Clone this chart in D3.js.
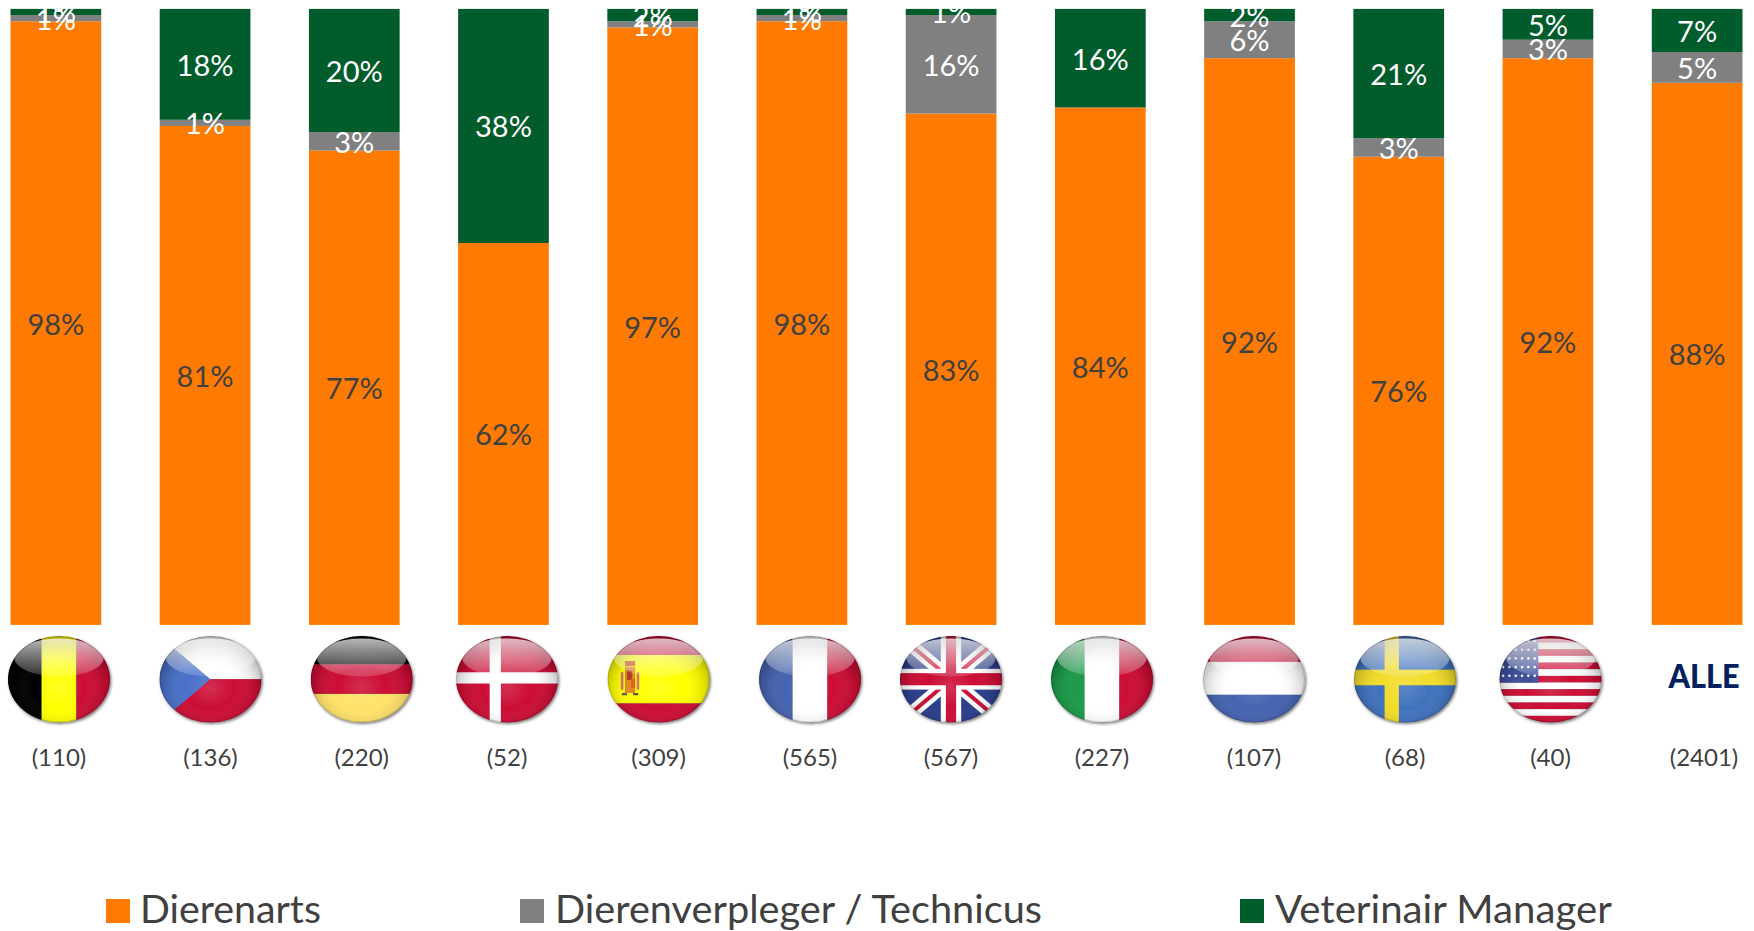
<!DOCTYPE html>
<html><head><meta charset="utf-8">
<script src="https://cdnjs.cloudflare.com/ajax/libs/d3/7.9.0/d3.min.js"></script>
<style>html,body{margin:0;padding:0;background:#fff;overflow:hidden}svg{display:block}text{font-family:Lato,"Open Sans",sans-serif}</style>
</head><body><svg id="c" width="1754" height="931"></svg>
<script>
// ---- data ----
const countries = ["BE","CZ","DE","DK","ES","FR","UK","IT","NL","SE","US","ALLE"];
const respondents = ["(110)","(136)","(220)","(52)","(309)","(565)","(567)","(227)","(107)","(68)","(40)","(2401)"];
const seriesNames = ["Dierenarts","Dierenverpleger / Technicus","Veterinair Manager"];
const dierenarts = [98,81,77,62,97,98,83,84,92,76,92,88];
const technicus  = [1,1,3,0,1,1,16,0,6,3,3,5];
const manager    = [1,18,20,38,2,1,1,16,2,21,5,7];
const seriesColors = ["#FF7A00","#808080","#005C2B"];
const labelColors = ["#404040","#ffffff","#ffffff"];

// ---- layout ----
const flagX = [59,210.5,361.7,507,658.6,810,951,1102,1254,1405,1550.5,1704];
const legendLayout = [{sx:106,tx:140,tw:181},{sx:520,tx:555,tw:487},{sx:1240,tx:1275,tw:337}];

const svg = d3.select("#c");
const x = d3.scaleBand().domain(countries).range([10.5,1742.5]).paddingInner(0.392);
const y = d3.scaleLinear().domain([0,100]).range([624.9,8.9]);
const rows = countries.map((c,i)=>({c,vals:[dierenarts[i],technicus[i],manager[i]]}));
const stack = d3.stack().keys([0,1,2]).value((d,k)=>d.vals[k]);
const layers = stack(rows);

const g = svg.selectAll("g.s").data(layers).join("g").attr("class","s").attr("fill",(d,i)=>seriesColors[i]);
g.selectAll("rect").data(d=>d).join("rect")
  .attr("x",d=>x(d.data.c)).attr("width",x.bandwidth())
  .attr("y",d=>y(d[1])).attr("height",d=>y(d[0])-y(d[1]));

// data labels
layers.forEach((layer,k)=>{
  svg.append("g").selectAll("text").data(layer.filter(d=>d[1]-d[0]>0)).join("text")
    .attr("x",d=>x(d.data.c)+x.bandwidth()/2)
    .attr("y",d=>y((d[0]+d[1])/2)+1)
    .attr("dy","0.36em").attr("text-anchor","middle")
    .attr("font-size",29).attr("fill",labelColors[k])
    .text(d=>(d[1]-d[0])+"%");
});

// flags: unit-square geometry
const R="#CC0A34",W="#FFFFFF",B="#4463B0",Y="#FFFF00",K="#000000",N="#2A3C8C";
const flags = {
 BE:[[0,0,.33,1,K],[.33,0,.34,1,Y],[.67,0,.33,1,R]],
 CZ:[[0,0,1,.5,W],[0,.5,1,.5,R],{poly:"0,0 .5,.5 0,1",f:"#4A6FC8"}],
 DE:[[0,0,1,.33,K],[0,.33,1,.34,R],[0,.67,1,.33,"#FFE26A"]],
 DK:[[0,0,1,1,R],[.33,0,.11,1,W],[0,.42,1,.13,W]],
 ES:[[0,0,1,.22,R],[0,.22,1,.56,Y],[0,.78,1,.22,R],[.17,.36,.1,.3,"#E08A1E"],[.19,.4,.05,.11,"#B33A2A"],[.23,.5,.04,.1,"#D9641E"],[.13,.42,.025,.2,"#D07070"],[.285,.42,.025,.2,"#D07070"],[.17,.29,.1,.06,"#C9551E"],[.14,.66,.05,.025,"#555"],[.25,.66,.05,.025,"#555"]],
 FR:[[0,0,.33,1,B],[.33,0,.34,1,W],[.67,0,.33,1,R]],
 UK:[[0,0,1,1,N],{line:[0,0,1,1],w:13,f:W},{line:[1,0,0,1],w:13,f:W},{line:[0,0,1,1],w:4,f:R},{line:[1,0,0,1],w:4,f:R},[.4,0,.2,1,W],[0,.38,1,.24,W],[.45,0,.1,1,R],[0,.43,1,.14,R]],
 IT:[[0,0,.33,1,"#1E9A48"],[.33,0,.34,1,W],[.67,0,.33,1,R]],
 NL:[[0,0,1,.3,R],[0,.3,1,.38,W],[0,.68,1,.32,B]],
 SE:[[0,0,1,1,"#3F72BC"],[.3,0,.14,1,"#F2DC2A"],[0,.39,1,.18,"#F2DC2A"]],
 US:d3.range(13).map(i=>[0,i/13,1,1/13,i%2?W:R]).concat([[0,0,.38,.54,"#3C4F9C"]])
};
const defs = svg.append("defs");
const rim = defs.append("radialGradient").attr("id","rim").attr("cx",.5).attr("cy",.6).attr("r",.6);
[[0,"#fff",.14],[.4,"#fff",0],[.75,"#000",.12],[1,"#000",.36]].forEach(s=>rim.append("stop").attr("offset",s[0]).attr("stop-color",s[1]).attr("stop-opacity",s[2]));
const gloss = defs.append("linearGradient").attr("id","gloss").attr("x1",0).attr("x2",0).attr("y1",0).attr("y2",1);
[[0,.72],[1,.16]].forEach(s=>gloss.append("stop").attr("offset",s[0]).attr("stop-color","#fff").attr("stop-opacity",s[1]));
const fl = defs.append("filter").attr("id","blur");
fl.append("feGaussianBlur").attr("stdDeviation",1.5);
const soft = defs.append("filter").attr("id","soft");
soft.append("feGaussianBlur").attr("stdDeviation",0.5);
const clip = defs.append("clipPath").attr("id","ball").attr("clipPathUnits","userSpaceOnUse");
const rx=51, ry=43.3, cy=679.2;
clip.append("ellipse").attr("cx",rx).attr("cy",ry).attr("rx",rx).attr("ry",ry);
const ux=d3.scaleLinear().domain([0,1]).range([0,2*rx]);
const uy=d3.scaleLinear().domain([0,1]).range([0,2*ry]);

countries.forEach((c,i)=>{
  const spec=flags[c]; if(!spec) return;
  const fg=svg.append("g").attr("transform",`translate(${flagX[i]-rx},${cy-ry})`);
  fg.append("ellipse").attr("cx",rx+1.2).attr("cy",ry+1.6).attr("rx",rx).attr("ry",ry).attr("fill","#777").attr("filter","url(#blur)");
  const ball=fg.append("g").attr("clip-path","url(#ball)");
  const art=ball.append("g").attr("filter","url(#soft)");
  spec.forEach(s=>{
    if(Array.isArray(s)) art.append("rect").attr("x",ux(s[0])).attr("y",uy(s[1])).attr("width",ux(s[2])).attr("height",uy(s[3])).attr("fill",s[4]);
    else if(s.poly) art.append("polygon").attr("points",s.poly.split(" ").map(p=>{const a=p.split(",");return ux(+a[0])+","+uy(+a[1]);}).join(" ")).attr("fill",s.f);
    else art.append("line").attr("x1",ux(s.line[0])).attr("y1",uy(s.line[1])).attr("x2",ux(s.line[2])).attr("y2",uy(s.line[3])).attr("stroke",s.f).attr("stroke-width",s.w);
  });
  if(c==="US"){
    const st=art.append("g").attr("fill","#fff");
    d3.range(5).forEach(r=>d3.range(6).forEach(q=>st.append("circle").attr("cx",ux(.035+q*.062)).attr("cy",uy(.06+r*.1)).attr("r",1.3)));
  }
  ball.append("ellipse").attr("cx",rx).attr("cy",ry).attr("rx",rx).attr("ry",ry).attr("fill","url(#rim)");
  ball.append("ellipse").attr("cx",rx).attr("cy",uy(.25)).attr("rx",rx*.88).attr("ry",uy(.22)).attr("fill","url(#gloss)");
  fg.append("ellipse").attr("cx",rx).attr("cy",ry).attr("rx",rx-.5).attr("ry",ry-.5).attr("fill","none").attr("stroke","#000").attr("stroke-opacity",.15);
});
// ALLE
svg.append("text").attr("x",flagX[11]).attr("y",675.7).attr("dy","0.36em").attr("text-anchor","middle")
  .attr("font-size",33).attr("font-weight",900).attr("fill","#002060").attr("textLength",71).attr("lengthAdjust","spacingAndGlyphs").text("ALLE");
// respondents
svg.append("g").selectAll("text").data(respondents).join("text")
  .attr("x",(d,i)=>flagX[i]).attr("y",757.5).attr("dy","0.36em").attr("text-anchor","middle")
  .attr("font-size",24).attr("fill","#404040").text(d=>d);
// legend
const lg=svg.append("g").selectAll("g").data(seriesNames).join("g");
lg.append("rect").attr("x",(d,i)=>legendLayout[i].sx).attr("y",899).attr("width",24).attr("height",24).attr("fill",(d,i)=>seriesColors[i]);
lg.append("text").attr("x",(d,i)=>legendLayout[i].tx).attr("y",922.5).attr("font-size",39).attr("fill","#404040")
  .attr("textLength",(d,i)=>legendLayout[i].tw).attr("lengthAdjust","spacingAndGlyphs").text(d=>d);
</script></body></html>
